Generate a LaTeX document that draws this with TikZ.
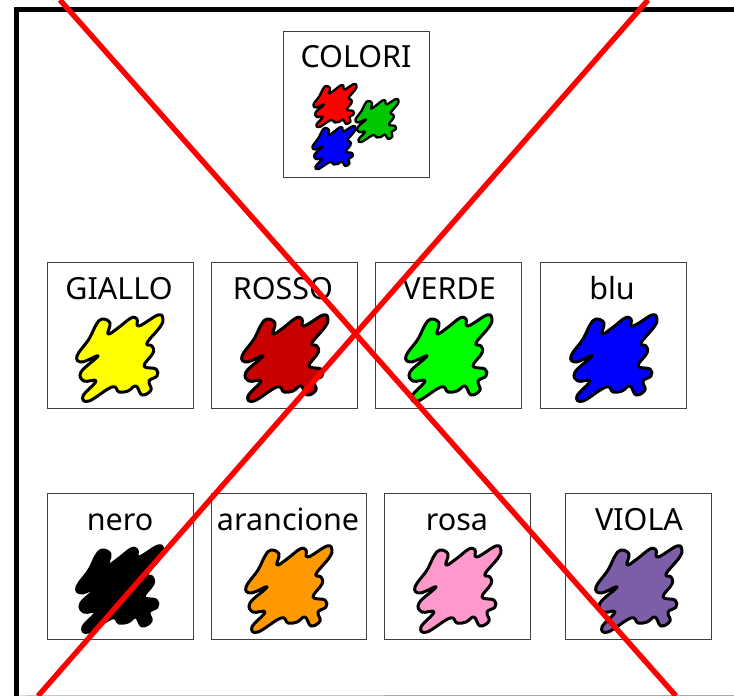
\documentclass[tikz,border=0pt]{standalone}
\usepackage{fontspec}
\setmainfont{Noto Sans}
\definecolor{xred}{HTML}{FF0000}
\definecolor{rosso}{HTML}{C80000}
\definecolor{verdino}{HTML}{00C800}
\definecolor{giallop}{HTML}{FFFF00}
\definecolor{verdep}{HTML}{00FF00}
\definecolor{bluep}{HTML}{0000FF}
\definecolor{arancio}{HTML}{FF9900}
\definecolor{rosa}{HTML}{FF99CC}
\definecolor{viola}{HTML}{7B5EA7}
\definecolor{boxline}{HTML}{404040}
\tikzset{
  card/.style={draw=boxline,line width=0.9pt,fill=white,minimum width=146pt,minimum height=146pt,inner sep=0pt,outer sep=0pt,anchor=north west},
  cardtext/.style={font=\fontsize{30.5}{33}\selectfont,anchor=base,inner sep=0pt,text=black},
  cross/.style={draw=xred,line width=5.4pt},
  blobline/.style={draw=black,line cap=round,line join=round}
}
\newcommand{\blobshape}[5]{% ox, oy, scale, colour, stroke
  \begin{scope}[shift={(#1,#2)},x=#3pt,y=-#3pt]
  \path[fill=#4,blobline,line width=#5pt] plot[smooth cycle,tension=0.68] coordinates {
    (54,56) (62,60) (60,71) (70,65) (83,55) (89,56) (91,63) (110,52) (115,56) (112,64)
    (99,80) (104,83) (105,90) (96,103) (108,106) (109,113) (101,118) (103,127) (94,132)
    (88,123) (80,128) (71,129) (64,124) (41,138) (35,133) (48,118) (36,118) (33,109)
    (50,93) (34,99) (29,93) (41,76) (48,62)};
  \end{scope}
}
\begin{document}
\begin{tikzpicture}[x=1pt,y=-1pt]
\useasboundingbox (0,0) rectangle (734,696);
\fill[white] (0,0) rectangle (734,696);
% frame
\coordinate (frameBL) at (16,696);
\coordinate (frameTL) at (16,9);
\coordinate (frameTR) at (734,9);
\coordinate (frameBR) at (734,695.5);
\draw[gray!70,line width=1pt] (frameBL) -- (frameBR);
\draw[black,line width=5pt,line join=miter] (frameBL) -- (frameTL) -- (frameTR);
% cards
\node[card] (colori) at (283,31.8) {};
\node[card] (giallo) at (47,262.8) {};
\node[card] (rossoc) at (211.4,262.8) {};
\node[card] (verde) at (375.9,262.8) {};
\node[card] (blu) at (540.4,262.8) {};
\node[card] (nero) at (47,493.8) {};
\node[card,minimum width=155pt] (arancione) at (211.4,493.8) {};
\node[card] (rosac) at (384.9,493.8) {};
\node[card] (violac) at (565.9,493.8) {};
% labels
\node[cardtext] (tcolori) at (356,67) {COLORI};
\node[cardtext] (tgiallo) at (119,299) {GIALLO};
\node[cardtext] (trosso) at (283,299) {ROSSO};
\node[cardtext] (tverde) at (449,299) {VERDE};
\node[cardtext] (tblu) at (612,299) {blu};
\node[cardtext] (tnero) at (120,530) {nero};
\node[cardtext] (tarancione) at (288,530) {arancione};
\node[cardtext] (trosa) at (457,530) {rosa};
\node[cardtext] (tviola) at (639,530) {VIOLA};
% blobs
\blobshape{299}{58}{0.5}{red}{2.3}
\blobshape{341}{73}{0.5}{verdino}{2.3}
\blobshape{298}{100}{0.5}{bluep}{2.3}
\blobshape{48}{263}{1}{giallop}{3}
\blobshape{213}{263}{1}{rosso}{3}
\blobshape{377}{263}{1}{verdep}{3}
\blobshape{542}{263}{1}{bluep}{3}
\blobshape{48}{494}{1}{black}{3}
\blobshape{217}{494}{1}{arancio}{3}
\blobshape{386}{494}{1}{rosa}{3}
\blobshape{567}{494}{1}{viola}{3}
% cross
\coordinate (xa) at (60,0);
\coordinate (xb) at (676,696);
\coordinate (xc) at (648,0);
\coordinate (xd) at (38,696);
\draw[cross] (xa) -- (xb);
\draw[cross] (xc) -- (xd);
\end{tikzpicture}
\end{document}
